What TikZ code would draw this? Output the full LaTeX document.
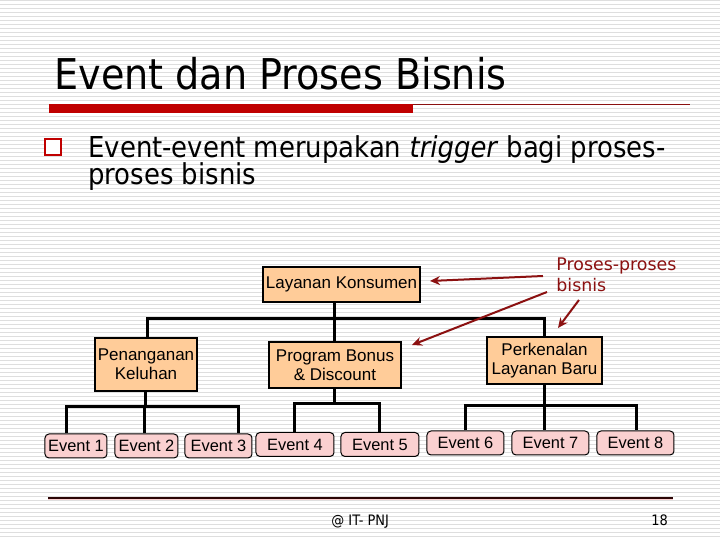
\documentclass[tikz,border=0pt]{standalone}
\usepackage{fontspec}
\setmainfont{Liberation Sans}
\newfontfamily\tahoma{DejaVu Sans Condensed}
\newfontfamily\comicf{DejaVu Sans}
\usetikzlibrary{arrows.meta}
\definecolor{stripecol}{HTML}{DEDEDE}
\definecolor{barred}{HTML}{C00000}
\definecolor{darkred}{HTML}{8B1010}
\definecolor{peach}{HTML}{FFCC99}
\definecolor{pinkev}{HTML}{FAD0D0}
\tikzset{
  pbox/.style={draw=black, line width=0.6pt, fill=peach, align=center, inner sep=1pt, font=\fontsize{8.5}{9.6}\selectfont},
  evbox/.style={draw=black, line width=0.5pt, fill=pinkev, rounded corners=2pt, inner sep=1pt, minimum height=12pt, font=\fontsize{8.2}{9}\selectfont},
  tree/.style={line width=1.5pt, black},
  callout/.style={line width=1pt, darkred, -{Stealth[length=5pt,width=4.5pt]}}
}
\begin{document}
\begin{tikzpicture}[x=0.5pt,y=-0.5pt]
\useasboundingbox (0,0) rectangle (720,540);
\fill[white] (0,0) rectangle (720,540);
\foreach \i in {0,...,134}
  \draw[stripecol, line width=0.5pt] (0,{\i*4+1}) -- (720,{\i*4+1});
% title
\node[anchor=base west, inner sep=0pt, font=\tahoma\fontsize{21.2}{24}\selectfont] (title) at (54,90) {Event dan Proses Bisnis};
\fill[barred] (49,104) rectangle (413,113);
\draw[darkred, line width=0.5pt] (413,104.5) -- (690,104.5);
% bullet
\draw[barred, line width=1pt, fill=white] (45,139) rectangle (61,155);
\node[anchor=base west, inner sep=0pt, font=\tahoma\fontsize{14.4}{16}\selectfont] (b1) at (88,158) {Event-event merupakan \textit{trigger} bagi proses-};
\node[anchor=base west, inner sep=0pt, font=\tahoma\fontsize{14.4}{16}\selectfont] (b2) at (88,185) {proses bisnis};
% tree nodes
\node[pbox, minimum width=78.5pt, minimum height=17.5pt] (lk) at (341.5,284.5) {Layanan Konsumen};
\node[pbox, minimum width=51pt, minimum height=26.5pt] (pk) at (146,364.5) {Penanganan\\Keluhan};
\node[pbox, minimum width=66pt, minimum height=23pt] (pb) at (335,365) {Program Bonus\\\& Discount};
\node[pbox, minimum width=57.5pt, minimum height=23.5pt] (pl) at (544.5,360.5) {Perkenalan\\Layanan Baru};
\node[evbox, minimum width=31pt] (e1) at (76,446) {Event 1};
\node[evbox, minimum width=31.5pt] (e2) at (146.5,446) {Event 2};
\node[evbox, minimum width=33.5pt] (e3) at (218.5,446) {Event 3};
\node[evbox, minimum width=39pt] (e4) at (295,444.5) {Event 4};
\node[evbox, minimum width=39pt] (e5) at (380,444.5) {Event 5};
\node[evbox, minimum width=38.5pt] (e6) at (465.5,443) {Event 6};
\node[evbox, minimum width=38.5pt] (e7) at (550.5,443) {Event 7};
\node[evbox, minimum width=38.5pt] (e8) at (635.5,443) {Event 8};
% buses
\coordinate (bus1) at (0,319);
\coordinate (bus2) at (0,407);
\coordinate (bus3) at (0,404);
\coordinate (bus4) at (0,406);
\draw[tree] ([xshift=1pt]pk.north) |- (pl.north |- bus1) -- (pl.north);
\draw[tree] (pb.north) -- (pb.north |- lk.south);
\draw[tree] (pk.south) -- (pk.south |- bus2);
\draw[tree] ([xshift=-4.5pt]e1.north) |- ([xshift=10pt]e3.north |- bus2) -- ([xshift=10pt]e3.north);
\draw[tree] ([xshift=-1pt]e2.north) -- ([xshift=-1pt]e2.north |- bus2);
\draw[tree] (pb.south) -- (pb.south |- bus3);
\draw[tree] (e4.north) |- (e5.north |- bus3) -- (e5.north);
\draw[tree] (pl.south) -- (pl.south |- e7.north);
\draw[tree] (e6.north) |- ([xshift=0.75pt]e8.north |- bus4) -- ([xshift=0.75pt]e8.north);
% callout
\node[anchor=north west, align=left, inner sep=0pt, text=darkred, font=\comicf\fontsize{8.7}{10.5}\selectfont] (pp) at (556,257) {Proses-proses\\bisnis};
\coordinate (a1s) at (543,276);
\coordinate (a1t) at (430,281);
\coordinate (a2s) at (547,292);
\coordinate (a2t) at (412,345);
\coordinate (a3s) at (579,300);
\coordinate (a3t) at (558,328);
\draw[callout] (a1s) -- (a1t);
\draw[callout] (a2s) -- (a2t);
\draw[callout] (a3s) -- (a3t);
% footer
\draw[pinkev, line width=1pt] (48,499.5) -- (673,499.5);
\draw[black!70!darkred, line width=0.6pt] (48,498) -- (673,498);
\node[anchor=base west, inner sep=0pt, font=\tahoma\fontsize{7.2}{8}\selectfont] (ft) at (331,526) {@ IT- PNJ};
\node[anchor=base west, inner sep=0pt, font=\tahoma\fontsize{7.2}{8}\selectfont] (pg) at (651,526) {18};
\end{tikzpicture}
\end{document}
